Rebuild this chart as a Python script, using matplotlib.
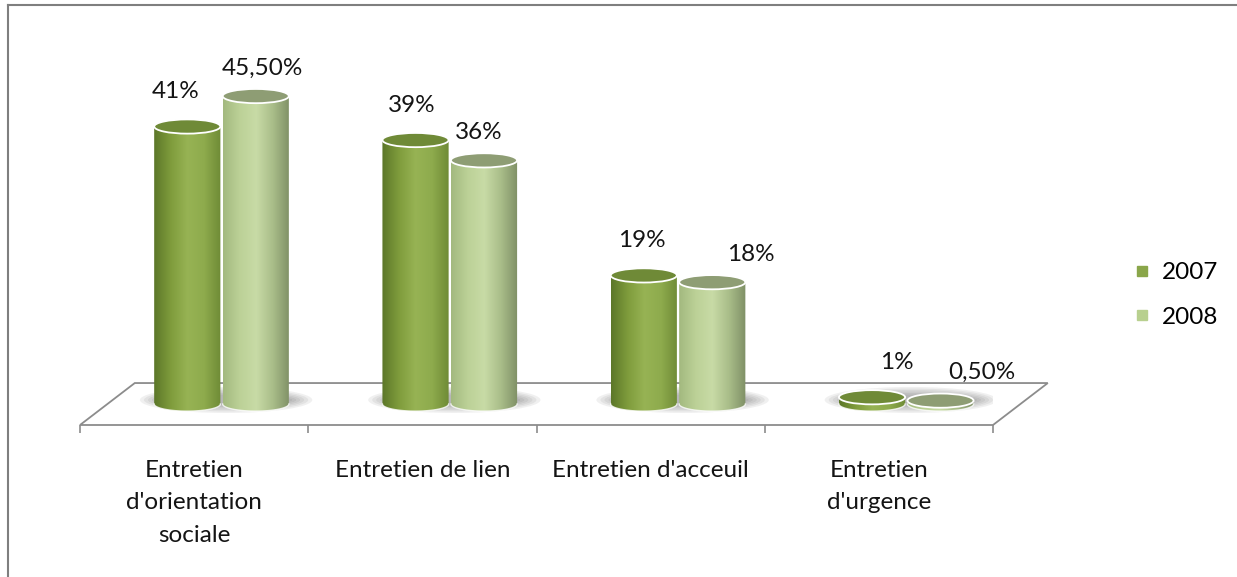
import numpy as np
import matplotlib
matplotlib.use("Agg")
import matplotlib.pyplot as plt
import matplotlib.colors as mcolors
from matplotlib.patches import Ellipse, Polygon, PathPatch
from matplotlib.path import Path
from matplotlib.lines import Line2D

# data
categories = [
    "Entretien\nd'orientation\nsociale",
    "Entretien de lien",
    "Entretien d'acceuil",
    "Entretien\nd'urgence",
]
years = ["2007", "2008"]
values_2007 = [41, 39, 19, 1]
values_2008 = [45.5, 36, 18, 0.5]
labels_2007 = ["41%", "39%", "19%", "1%"]
labels_2008 = ["45,50%", "36%", "18%", "0,50%"]

# styling
FONT = ["Lato", "DejaVu Sans"]
FONT_SIZE = 17.5
TEXT_COLOR = "#141414"
EDGE_GREY = "#8c8c8c"
DEPTH_X = 0.24      # floor depth, in category units
DEPTH_Y = 6.2       # floor depth, in percent units
CYL_W = 0.29        # cylinder diameter in category units
ELL_H = 2.1         # ellipse height in percent units
SERIES_SHIFT = 0.15

side_stops = {
    "2007": ["#5c7729", "#7f9c3c", "#97b354", "#8eab4d", "#6f8b36"],
    "2008": ["#a3b97f", "#bcd197", "#c8dba6", "#a9bd89", "#7f9066"],
}
top_colors = {"2007": "#6f8a37", "2008": "#8e9d74"}
legend_colors = {"2007": "#8aa64a", "2008": "#b8d08f"}
# nudges of the value labels, in pixels (Excel placed them a bit irregularly)
label_dx = {"2007": [-12, -4, -2, 25], "2008": [7, -5, 39, 41]}
label_dy = {"2007": 35, "2008": 28}

plt.rcParams["font.family"] = FONT


def draw_shadow(ax, xc):
    for k in range(6):
        w = 0.58 + 0.035 * k
        h = 1.6 + 0.45 * k
        ax.add_patch(Ellipse((xc + 0.02, 0.6), w, h, fc="#4a4a4a", ec="none",
                             alpha=0.08, zorder=2))


def draw_cylinder(ax, xc, h, year, z):
    r = CYL_W / 2
    e = ELL_H / 2
    t = np.linspace(np.pi, 2 * np.pi, 60)
    bottom = np.column_stack([xc + r * np.cos(t), e * np.sin(t)])
    verts = np.vstack([[xc - r, h], bottom, [xc + r, h], [xc - r, h]])
    codes = [Path.MOVETO] + [Path.LINETO] * (len(verts) - 2) + [Path.CLOSEPOLY]
    body = PathPatch(Path(verts, codes), fc="none", ec="none", zorder=z)
    ax.add_patch(body)

    cmap = mcolors.LinearSegmentedColormap.from_list("side", side_stops[year])
    grad = cmap(np.linspace(0, 1, 128))[None, :, :]
    im = ax.imshow(grad, extent=(xc - r, xc + r, -e, h), aspect="auto",
                   origin="lower", interpolation="bilinear", zorder=z)
    im.set_clip_path(body)

    # thin light rim along the base
    ax.plot(bottom[:, 0], bottom[:, 1], color="white", lw=1.0, alpha=0.8, zorder=z)
    ax.add_patch(Ellipse((xc, h), 2 * r, 2 * e, fc=top_colors[year], ec="white",
                         lw=1.3, zorder=z + 0.5))


fig = plt.figure(figsize=(12.37, 5.77), dpi=100)
ax = fig.add_axes([80 / 1237, (577 - 425) / 577, 913 / 1237, 400 / 577])
ax.set_xlim(-0.5, len(categories) - 0.5)
ax.set_ylim(-DEPTH_Y / 2, 56)
for s in ax.spines.values():
    s.set_visible(False)

# floor
n = len(categories)
floor = Polygon([(-0.5, -DEPTH_Y / 2), (n - 0.5, -DEPTH_Y / 2),
                 (n - 0.5 + DEPTH_X, DEPTH_Y / 2), (-0.5 + DEPTH_X, DEPTH_Y / 2)],
                closed=True, fc="white", ec=EDGE_GREY, lw=1.3, zorder=1,
                clip_on=False)
ax.add_patch(floor)

x = np.arange(n)
mid = x + DEPTH_X / 2
series = [("2007", values_2007, labels_2007, -SERIES_SHIFT),
          ("2008", values_2008, labels_2008, SERIES_SHIFT)]

for i in range(n):
    draw_shadow(ax, mid[i])

for k, (year, vals, labs, shift) in enumerate(series):
    for i in range(n):
        xc = mid[i] + shift
        draw_cylinder(ax, xc, vals[i], year, z=3 + 2 * k)
        ax.annotate(labs[i], (xc, vals[i]), xytext=(label_dx[year][i], label_dy[year]),
                    textcoords="offset pixels", ha="center", va="center",
                    fontsize=FONT_SIZE, color=TEXT_COLOR, zorder=10)

# category axis
ax.set_xticks(x)
ax.set_xticklabels(categories, fontsize=FONT_SIZE, color=TEXT_COLOR, linespacing=1.68)
ax.set_xticks(np.arange(n + 1) - 0.5, minor=True)
ax.tick_params(axis="x", which="major", length=0, pad=25)
ax.tick_params(axis="x", which="minor", length=6, width=1.2, color=EDGE_GREY,
               direction="out")
ax.set_yticks([])

# legend
handles = [Line2D([], [], marker="s", ls="none", markersize=7,
                  mfc=legend_colors[y], mec=legend_colors[y]) for y in years]
fig.legend(handles, years, loc="center left", bbox_to_anchor=(1108 / 1237, 1 - 295 / 577),
           frameon=False, fontsize=FONT_SIZE, handletextpad=0.3, labelspacing=0.95,
           handlelength=1.0)

# frame of the surrounding document box
fig.add_artist(Line2D([8 / 1237, 8 / 1237], [0, 1 - 5 / 577], transform=fig.transFigure,
                      color="#7f7f7f", lw=1.5))
fig.add_artist(Line2D([8 / 1237, 1], [1 - 5 / 577, 1 - 5 / 577], transform=fig.transFigure,
                      color="#7f7f7f", lw=1.5))

fig.savefig("out.png", dpi=100, facecolor="white")
